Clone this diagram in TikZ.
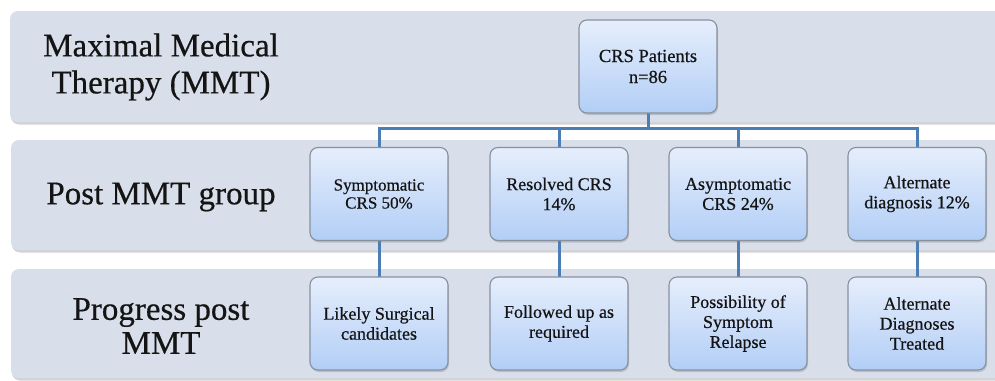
\documentclass[tikz,border=0pt]{standalone}
\usepackage{fontspec}
\setmainfont{Liberation Serif}[FakeBold=0.5]
\usetikzlibrary{shadows}
\definecolor{bandfill}{RGB}{217,223,234}
\definecolor{boxtop}{RGB}{230,238,252}
\definecolor{boxbot}{RGB}{178,206,246}
\definecolor{boxline}{RGB}{135,145,158}
\definecolor{connblue}{RGB}{74,126,180}
\definecolor{txt}{RGB}{20,20,20}
\tikzset{
  band/.style={rectangle, rounded corners=8pt, fill=bandfill, draw=none,
    drop shadow={shadow xshift=1pt, shadow yshift=-2.5pt, opacity=0.35}},
  bandlabel/.style={align=center, font=\fontsize{33}{37}\selectfont, text=txt},
  box/.style={rectangle, rounded corners=8pt, draw=boxline, line width=1.1pt,
    top color=boxtop, bottom color=boxbot, minimum width=138pt, minimum height=93pt,
    align=center, font=\fontsize{18}{20}\selectfont, text=txt, inner sep=2pt,
    drop shadow={shadow xshift=1pt, shadow yshift=-2pt, opacity=0.35}},
  conn/.style={draw=connblue, line width=3pt}
}
\begin{document}
\begin{tikzpicture}[x=1pt,y=-1pt]
\useasboundingbox (0,0) rectangle (995,380);
\clip (0,0) rectangle (995,380);
% bands
\node[band, minimum width=995pt, minimum height=111pt] (b1) at (507.5,66.5) {};
\node[band, minimum width=994pt, minimum height=110pt] (b2) at (508,195) {};
\node[band, minimum width=994pt, minimum height=109pt] (b3) at (508,323.5) {};
\node[bandlabel] (l1) at (161,67) {Maximal Medical\\Therapy (MMT)};
\node[bandlabel] (l2) at (161,197) {Post MMT group};
\node[bandlabel, font=\fontsize{33}{34}\selectfont] (l3) at (161,326) {Progress post\\MMT};
% connector coordinates
\coordinate (busL) at (379,128);
\coordinate (busR) at (917,128);
\coordinate (busM) at (648,128);
\coordinate (bus2) at (559,128);
\coordinate (bus3) at (738,128);
% box positions
\path (648,66.5) coordinate (pc);
\path (379,194) coordinate (q1) (559,194) coordinate (q2) (738,194) coordinate (q3) (917,194) coordinate (q4);
\path (379,323.5) coordinate (r1) (559,323.5) coordinate (r2) (738,323.5) coordinate (r3) (917,323.5) coordinate (r4);
% connectors behind boxes
\draw[conn] (pc) -- (busM);
\draw[conn, line cap=rect] (busL) -- (busR);
\draw[conn] (busL) -- (r1);
\draw[conn] (bus2) -- (r2);
\draw[conn] (bus3) -- (r3);
\draw[conn] (busR) -- (r4);
% boxes
\node[box, font=\fontsize{18.5}{21}\selectfont] (crs) at (pc) {CRS Patients\\n=86};
\node[box, font=\fontsize{17}{18}\selectfont] (s1) at (q1) {Symptomatic\\CRS 50\%};
\node[box] (s2) at (q2) {Resolved CRS\\14\%};
\node[box] (s3) at (q3) {Asymptomatic\\CRS 24\%};
\node[box] (s4) at (q4) {Alternate\\diagnosis 12\%};
\node[box] (p1) at (r1) {Likely Surgical\\candidates};
\node[box] (p2) at (r2) {Followed up as\\required};
\node[box] (p3) at (r3) {Possibility of\\Symptom\\Relapse};
\node[box] (p4) at (r4) {Alternate\\Diagnoses\\Treated};
\end{tikzpicture}
\end{document}
